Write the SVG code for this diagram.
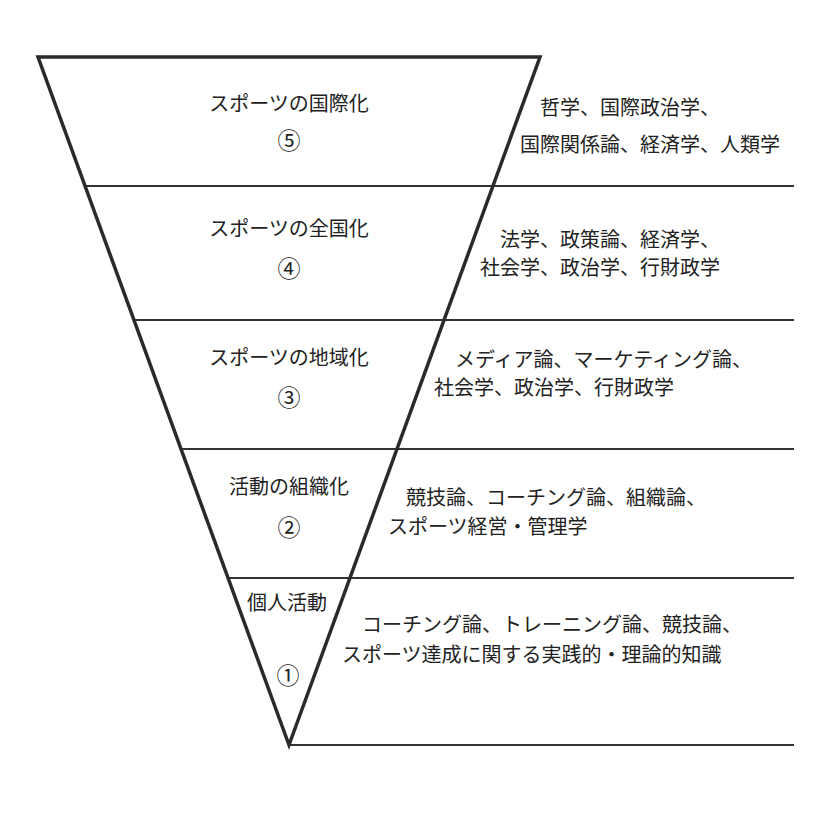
<svg xmlns="http://www.w3.org/2000/svg" width="814" height="814" viewBox="0 0 814 814">
<style>
.t{font-family:"Noto Sans CJK JP","Noto Sans",sans-serif;font-size:20px;fill:#222}
.c{text-anchor:middle}
.n{font-size:23px}
.h{stroke:#333;stroke-width:2;fill:none}
.tri{stroke:#2a2a2a;stroke-width:3.5;fill:none;stroke-linejoin:miter}
</style>
<rect width="814" height="814" fill="#fff"/>
<g id="connectors">
<line class="h" x1="85" y1="186" x2="794" y2="186"/>
<line class="h" x1="134" y1="320" x2="794" y2="320"/>
<line class="h" x1="181" y1="449" x2="794" y2="449"/>
<line class="h" x1="228" y1="578" x2="794" y2="578"/>
<line class="h" x1="289" y1="745" x2="794" y2="745"/>
<polygon class="tri" points="38,57 540,57 289,745"/>
</g>
<g id="tier5">
<text class="t c" x="289" y="111">スポーツの国際化</text>
<text class="t c n" x="289" y="149">⑤</text>
<text class="t" x="540" y="115">哲学、国際政治学、</text>
<text class="t" x="520" y="152">国際関係論、経済学、人類学</text>
</g>
<g id="tier4">
<text class="t c" x="289" y="236">スポーツの全国化</text>
<text class="t c n" x="289" y="277">④</text>
<text class="t" x="500" y="247">法学、政策論、経済学、</text>
<text class="t" x="480" y="275">社会学、政治学、行財政学</text>
</g>
<g id="tier3">
<text class="t c" x="289" y="365">スポーツの地域化</text>
<text class="t c n" x="289" y="406">③</text>
<text class="t" x="455" y="367">メディア論、マーケティング論、</text>
<text class="t" x="434" y="395">社会学、政治学、行財政学</text>
</g>
<g id="tier2">
<text class="t c" x="289" y="494">活動の組織化</text>
<text class="t c n" x="289" y="536">②</text>
<text class="t" x="406" y="505">競技論、コーチング論、組織論、</text>
<text class="t" x="388" y="534">スポーツ経営・管理学</text>
</g>
<g id="tier1">
<text class="t c" x="287" y="610">個人活動</text>
<text class="t c n" x="288" y="684">①</text>
<text class="t" x="362" y="632">コーチング論、トレーニング論、競技論、</text>
<text class="t" x="342" y="662">スポーツ達成に関する実践的・理論的知識</text>
</g>
</svg>
